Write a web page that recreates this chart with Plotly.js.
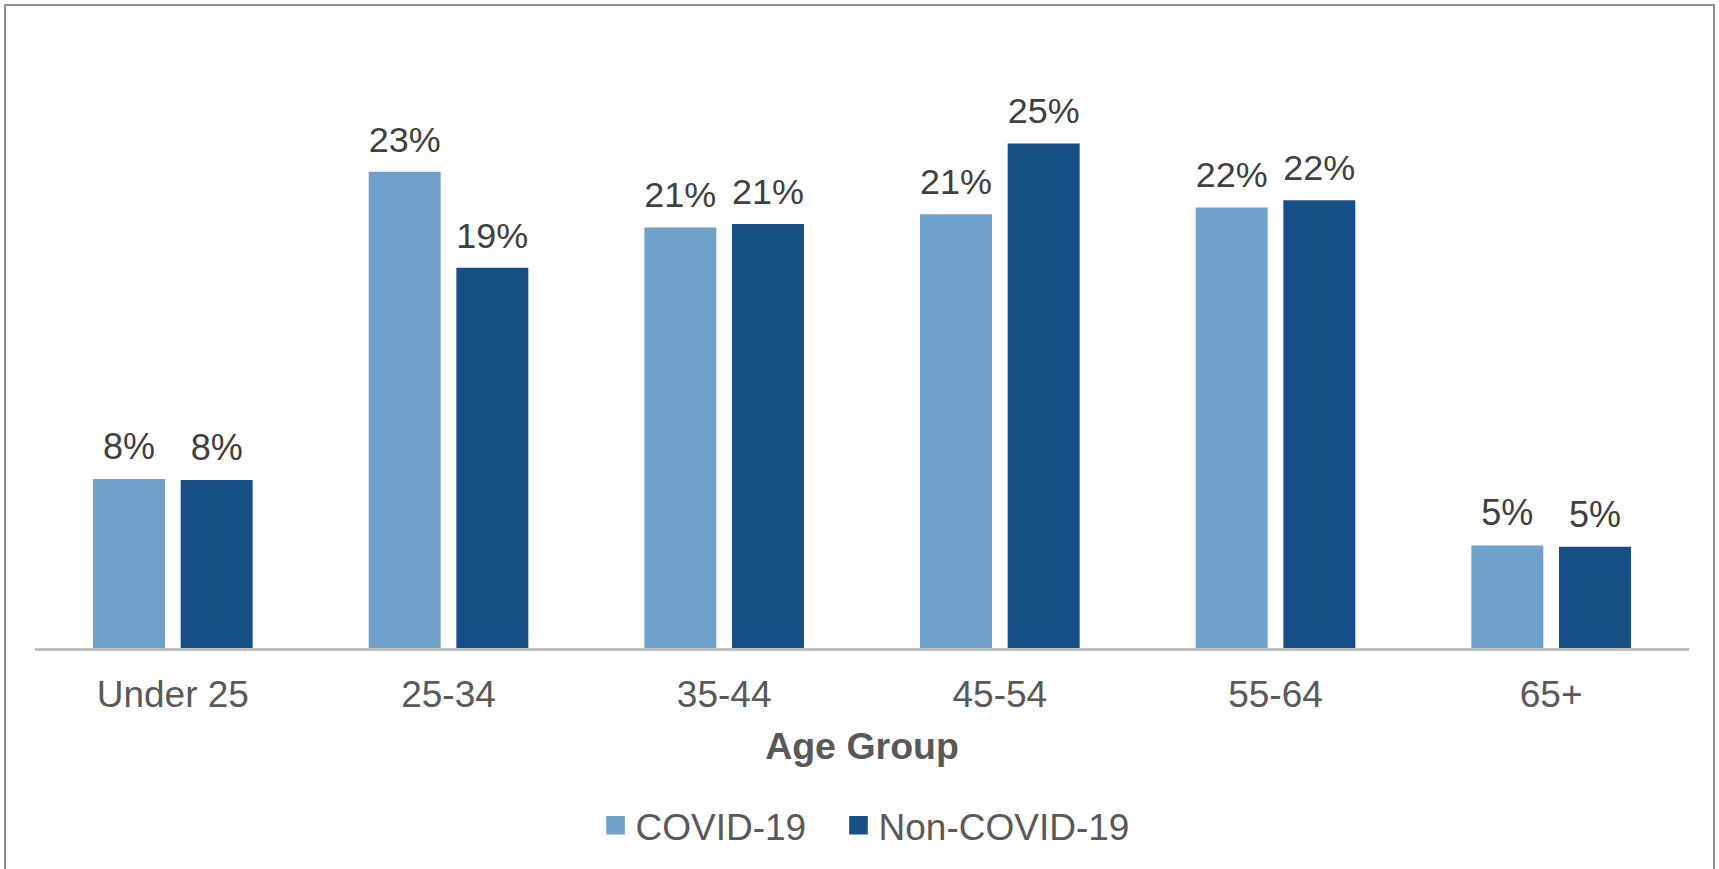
<!DOCTYPE html>
<html>
<head>
<meta charset="utf-8">
<script src="https://cdn.plot.ly/plotly-3.0.1.min.js"></script>
<style>
  html, body { margin: 0; padding: 0; overflow: hidden; background: #ffffff; }
  #chart { width: 1719px; height: 869px; }
  #frame {
    position: absolute; left: 4px; top: 4px; width: 1711px; height: 900px;
    border: 2px solid #8f8f8f; pointer-events: none; box-sizing: border-box;
  }
</style>
</head>
<body>
<div id="chart"></div>
<div id="frame"></div>
<script>
// Share of cases by age group (percent)
const ageGroups = ["Under 25", "25-34", "35-44", "45-54", "55-64", "65+"];
const covidShare = [8.31, 23.42, 20.68, 21.32, 21.66, 5.04];
const nonCovidShare = [8.26, 18.70, 20.85, 24.81, 22.02, 4.98];
const seriesNames = ["COVID-19", "Non-COVID-19"];

const FONT = '"Liberation Sans", Arial, sans-serif';

const traces = [
  {
    type: "bar", name: seriesNames[0], x: ageGroups, y: covidShare,
    marker: { color: "#70A1CA" }, legend: "legend",
    texttemplate: "%{y:.0f}%", textposition: "outside", cliponaxis: false,
    textfont: { family: FONT, size: 36, color: "#404040" },
    hoverinfo: "x+y"
  },
  {
    type: "bar", name: seriesNames[1], x: ageGroups, y: nonCovidShare,
    marker: { color: "#164E86" }, legend: "legend2",
    texttemplate: "%{y:.0f}%", textposition: "outside", cliponaxis: false,
    textfont: { family: FONT, size: 36, color: "#404040" },
    hoverinfo: "x+y"
  }
];

const legendStyle = {
  orientation: "h", xanchor: "left", y: -0.315, yanchor: "middle",
  font: { family: FONT, size: 37, color: "#595959" },
  bgcolor: "rgba(0,0,0,0)"
};

const layout = {
  width: 1719, height: 869,
  margin: { l: 35, r: 30, t: 84, b: 214 },
  paper_bgcolor: "#ffffff", plot_bgcolor: "#ffffff",
  font: { family: FONT, color: "#595959", size: 37 },
  barmode: "group", bargap: 0.364, bargroupgap: 0.179,
  xaxis: {
    showline: true, linecolor: "#BFBFBF", linewidth: 3,
    ticks: "", showgrid: false, zeroline: false,
    tickfont: { family: FONT, size: 37, color: "#595959" },
    ticklabelstandoff: 12,
    title: { text: "<b>Age Group</b>", font: { family: FONT, size: 37.5, color: "#595959" }, standoff: 19 }
  },
  yaxis: { visible: false, range: [0, 27.73], showgrid: false, zeroline: false, fixedrange: true },
  showlegend: true,
  legend: Object.assign({ x: 0.3389 }, legendStyle),
  legend2: Object.assign({ x: 0.4858 }, legendStyle)
};

Plotly.newPlot("chart", traces, layout, { displayModeBar: false, staticPlot: true }).then(function (gd) {
  // larger square legend swatches, kept at their usual centre
  gd.querySelectorAll(".legendpoints path").forEach(function (p) {
    p.setAttribute("transform", "translate(20,0) scale(1.55)");
  });
  // a little more room between each bar and its value label
  gd.querySelectorAll(".bartext").forEach(function (t) {
    const tr = t.getAttribute("transform") || "";
    t.setAttribute("transform", "translate(0,-9) " + tr);
  });
});
</script>
</body>
</html>
